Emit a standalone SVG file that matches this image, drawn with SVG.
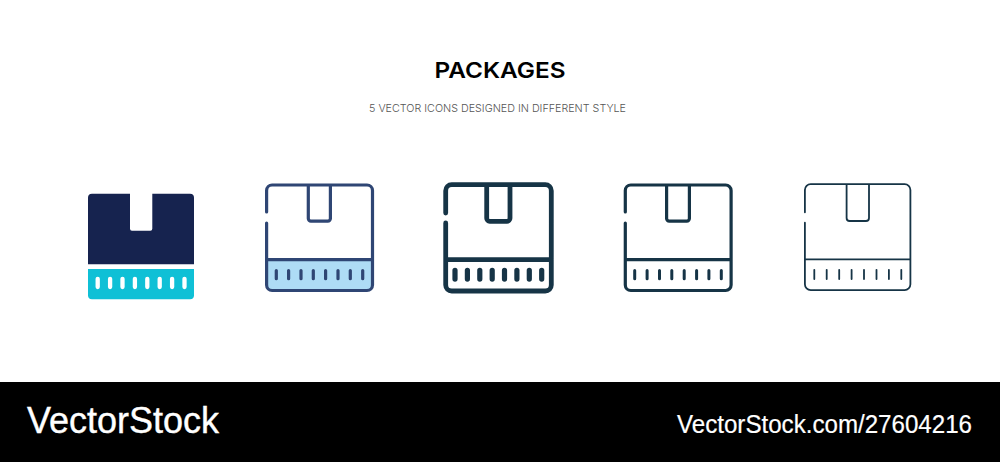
<svg xmlns="http://www.w3.org/2000/svg" width="1000" height="462" viewBox="0 0 1000 462">
<style>
.s{fill:none;stroke-linecap:round;stroke-linejoin:round}
.d{stroke-linecap:round;fill:none}
.c2{stroke:#2f4674}
.c3{stroke:#163446}
.t{font-family:"Inter","Liberation Sans",sans-serif}
.v{font-family:"Liberation Sans",Arial,sans-serif;fill:#fff}
</style>
<rect width="1000" height="462" fill="#fff"/>
<text class="t" x="500" y="78" text-anchor="middle" font-size="22" font-weight="600" fill="#000" textLength="131" lengthAdjust="spacingAndGlyphs">PACKAGES</text>
<text class="t" x="497.5" y="112" text-anchor="middle" font-size="10.5" font-weight="300" fill="#555" textLength="257" lengthAdjust="spacingAndGlyphs">5 VECTOR ICONS DESIGNED IN DIFFERENT STYLE</text>
<g id="icon-1">
<path d="M92 193.7H130V228.7a2 2 0 0 0 2 2H150.3a2 2 0 0 0 2-2V193.7H190a4 4 0 0 1 4 4V264.3H88V197.7a4 4 0 0 1 4-4Z" fill="#16234f"/>
<path d="M88 269H194V295.3a4 4 0 0 1-4 4H92a4 4 0 0 1-4-4Z" fill="#0fc0d6"/>
<path class="d" stroke="#fff" stroke-width="4.3" d="M97.7 278.8v8.2M110.1 278.8v8.2M122.5 278.8v8.2M134.9 278.8v8.2M147.3 278.8v8.2M159.7 278.8v8.2M172.1 278.8v8.2M184.5 278.8v8.2"/>
</g>
<g id="icon-2">
<path d="M266.5 260H372.5V285a5.500 5.500 0 0 1-5.500 5.500H272a5.500 5.500 0 0 1-5.500-5.500Z" fill="#aedcf5"/>
<path class="s c2" stroke-width="3.200" d="M266.600 212V190.500a5.500 5.500 0 0 1 5.500-5.500H367a5.500 5.500 0 0 1 5.500 5.500V285a5.500 5.500 0 0 1-5.500 5.500H272.100a5.500 5.500 0 0 1-5.500-5.500V223M266.600 259.700H372.500M308.300 185V218.500a2.600 2.600 0 0 0 2.600 2.600H327.800a2.600 2.600 0 0 0 2.600-2.600V185"/>
<path class="d c2" stroke-width="3.200" d="M276.300 270.600v8.100M288.600 270.600v8.100M301 270.600v8.100M313.300 270.600v8.100M325.600 270.600v8.100M338 270.600v8.100M350.300 270.600v8.100M362.700 270.600v8.100"/>
</g>
<g id="icon-3">
<path class="s c3" stroke-width="4.800" d="M445.700 213V190.700a6 6 0 0 1 6-6H545.300a6 6 0 0 1 6 6V285a6 6 0 0 1-6 6H451.700a6 6 0 0 1-6-6V223M445.700 259.700H551.300M486.700 184.700V218.300a3 3 0 0 0 3 3H507a3 3 0 0 0 3-3V184.700"/>
<path class="d c3" stroke-width="5.200" d="M455 270.300v8.800M467.400 270.300v8.800M479.800 270.300v8.800M492.200 270.300v8.800M504.500 270.300v8.800M516.900 270.300v8.800M529.300 270.300v8.800M541.700 270.300v8.800"/>
</g>
<g id="icon-4">
<path class="s c3" stroke-width="3.200" d="M625.300 212V190.500a5.500 5.500 0 0 1 5.500-5.500H725.600a5.500 5.500 0 0 1 5.500 5.500V285a5.500 5.500 0 0 1-5.500 5.500H630.800a5.500 5.500 0 0 1-5.500-5.500V223M625.300 259.700H731.100M666.600 185V218.500a2.600 2.600 0 0 0 2.600 2.600H686.800a2.600 2.600 0 0 0 2.600-2.600V185"/>
<path class="d c3" stroke-width="3" d="M634.700 270.500v8.300M647.100 270.500v8.300M659.500 270.500v8.300M671.800 270.500v8.300M684.200 270.500v8.300M696.600 270.500v8.300M708.900 270.500v8.300M721.300 270.500v8.300"/>
</g>
<g id="icon-5">
<path class="s c3" stroke-width="1.800" d="M804.900 212.300V190a5.800 5.800 0 0 1 5.800-5.800H904.600a5.800 5.800 0 0 1 5.800 5.800V284.300a5.800 5.800 0 0 1-5.800 5.800H810.700a5.800 5.800 0 0 1-5.800-5.800V222.700M804.900 259.300H910.400M846.600 184.200V218a3 3 0 0 0 3 3H866a3 3 0 0 0 3-3V184.200"/>
<path class="d c3" stroke-width="1.800" d="M814.300 269.800v9.200M826.700 269.800v9.200M839.200 269.800v9.200M851.600 269.800v9.200M864 269.800v9.200M876.500 269.800v9.200M888.900 269.800v9.200M901.300 269.800v9.200"/>
</g>
<rect y="382" width="1000" height="80" fill="#000"/>
<text class="v" x="27" y="433" font-size="37" stroke="#fff" stroke-width="0.4" textLength="192" lengthAdjust="spacingAndGlyphs">VectorStock</text>
<text class="v" x="677" y="432.500" font-size="25.500" stroke="#fff" stroke-width="0.2" textLength="295" lengthAdjust="spacingAndGlyphs">VectorStock.com/27604216</text>
</svg>
